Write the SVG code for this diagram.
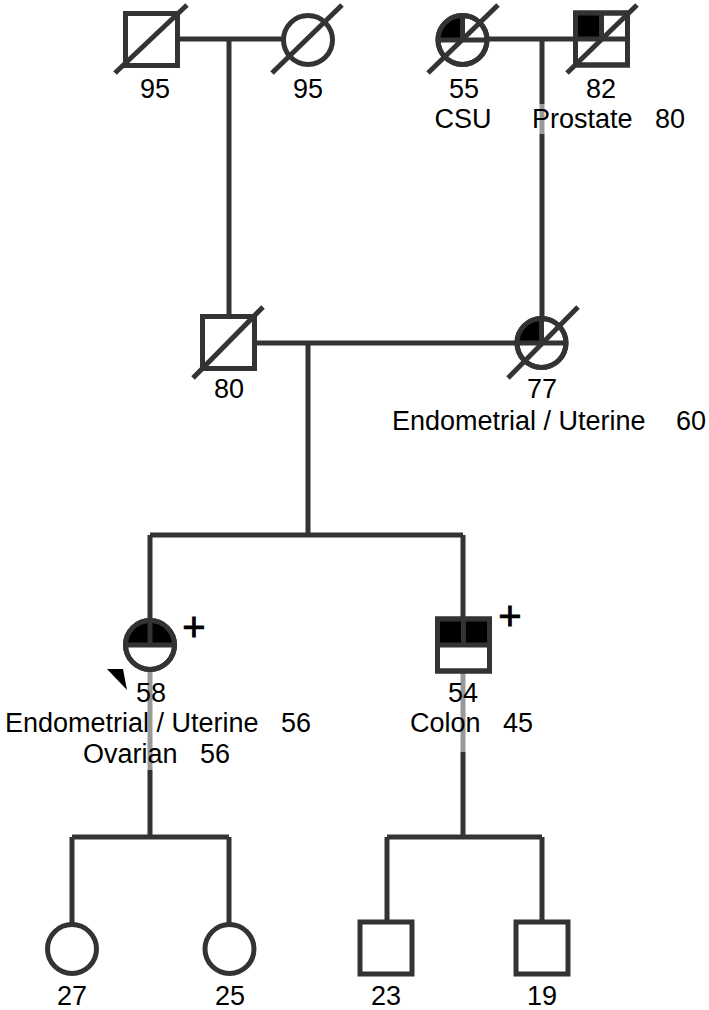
<svg xmlns="http://www.w3.org/2000/svg" width="709" height="1010" viewBox="0 0 709 1010">
<style>
.ln{stroke:#333;stroke-width:5;fill:none}
.sym{stroke:#333;stroke-width:5;fill:#fff}
.dv{stroke:#333;stroke-width:5}
.fill{fill:#000}
.ds{stroke:#333;stroke-width:5}
.gr{stroke:#999;stroke-width:5;fill:none}
text{font-family:"Liberation Sans",Arial,sans-serif;font-size:27px;fill:#000}
.c{text-anchor:middle}
.plus{font-size:40px;text-anchor:middle;stroke:#000;stroke-width:0.8}
</style>
<rect width="709" height="1010" fill="#fff"/>
<g id="connectors">
<path class="ln" d="M177.5,39H284M229,39V316.5"/>
<path class="ln" d="M487,39H575.5M542,39V104M542,134V318.5"/>
<path class="gr" d="M542,104V134"/>
<path class="ln" d="M254.5,343H517M308,343V535M150,535H463M150,535V620.5M463,535V619"/>
<path class="gr" d="M150,669.5V770"/>
<path class="ln" d="M150,770V837M72,837H229M72,837V924.5M229,837V924.5"/>
<path class="gr" d="M463,671V752"/>
<path class="ln" d="M463,752V837M387,837H542M387,837V922M542,837V922"/>
</g>
<g id="gf1">
<rect class="sym" x="125.5" y="13.5" width="52" height="52"/>
<line class="ds" x1="115" y1="73" x2="187" y2="5"/>
<text class="c" x="155" y="98">95</text>
</g>
<g id="gm1">
<circle class="sym" cx="308" cy="40" r="24.5"/>
<line class="ds" x1="272" y1="73" x2="342" y2="5"/>
<text class="c" x="308" y="98">95</text>
</g>
<g id="gm2">
<circle class="sym" cx="462.5" cy="40" r="24.5"/>
<path class="fill" d="M462.5,40H438A24.5,24.5 0 0 1 462.5,15.5Z"/>
<path class="dv" d="M438,40H487M462.5,15.5V40"/>
<circle class="ln" cx="462.5" cy="40" r="24.5"/>
<line class="ds" x1="428" y1="73" x2="498" y2="5"/>
<text class="c" x="464" y="98">55</text>
<text class="c" x="463" y="128">CSU</text>
</g>
<g id="gf2">
<rect class="sym" x="575.5" y="13" width="52" height="52"/>
<rect class="fill" x="575.5" y="13" width="26" height="26"/>
<path class="dv" d="M575.5,39H627.5M601.5,13V39"/>
<rect class="ln" x="575.5" y="13" width="52" height="52"/>
<line class="ds" x1="567" y1="73" x2="637" y2="5"/>
<text class="c" x="601" y="98">82</text>
<text x="532" y="128">Prostate</text>
<text x="655" y="128">80</text>
</g>
<g id="father">
<rect class="sym" x="202.5" y="316.5" width="52" height="52"/>
<line class="ds" x1="193" y1="378" x2="263" y2="307"/>
<text class="c" x="229" y="398">80</text>
</g>
<g id="mother">
<circle class="sym" cx="541.5" cy="343" r="24.5"/>
<path class="fill" d="M541.5,343H517A24.5,24.5 0 0 1 541.5,318.5Z"/>
<path class="dv" d="M517,343H566M541.5,318.5V343"/>
<circle class="ln" cx="541.5" cy="343" r="24.5"/>
<line class="ds" x1="508" y1="378" x2="578" y2="307"/>
<text class="c" x="542" y="398">77</text>
<text x="392" y="430">Endometrial / Uterine</text>
<text x="676" y="430">60</text>
</g>
<g id="proband">
<circle class="sym" cx="150" cy="645" r="24.5"/>
<path class="fill" d="M125.5,645A24.5,24.5 0 0 1 174.5,645Z"/>
<path class="dv" d="M125.5,645H174.5M150,620.5V645"/>
<circle class="ln" cx="150" cy="645" r="24.5"/>
<text class="plus" x="194" y="641">+</text>
<polygon class="fill" points="107,669 123,669 127,690"/>
<text class="c" x="151" y="702">58</text>
<text x="5" y="732">Endometrial / Uterine</text>
<text x="281" y="732">56</text>
<text x="83" y="763">Ovarian</text>
<text x="200" y="763">56</text>
</g>
<g id="brother">
<rect class="sym" x="437.5" y="619" width="52" height="52"/>
<rect class="fill" x="437.5" y="619" width="52" height="26"/>
<path class="dv" d="M437.5,645H489.5M463.5,619V645"/>
<rect class="ln" x="437.5" y="619" width="52" height="52"/>
<text class="plus" x="510" y="630">+</text>
<text class="c" x="463" y="702">54</text>
<text x="410" y="732">Colon</text>
<text x="503" y="732">45</text>
</g>
<g id="d1">
<circle class="sym" cx="72" cy="949" r="24.5"/>
<text class="c" x="72" y="1005">27</text>
</g>
<g id="d2">
<circle class="sym" cx="229.5" cy="949" r="24.5"/>
<text class="c" x="230" y="1005">25</text>
</g>
<g id="s1">
<rect class="sym" x="360" y="922" width="52" height="52"/>
<text class="c" x="386" y="1005">23</text>
</g>
<g id="s2">
<rect class="sym" x="516" y="922" width="52" height="52"/>
<text class="c" x="542" y="1005">19</text>
</g>
</svg>
